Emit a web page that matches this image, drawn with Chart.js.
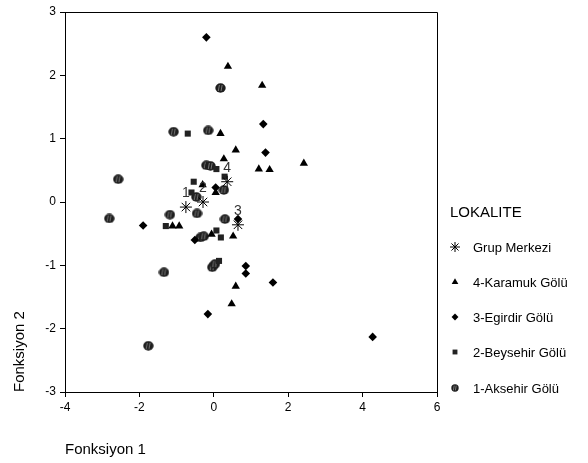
<!DOCTYPE html>
<html>
<head>
<meta charset="utf-8">
<script src="https://cdn.jsdelivr.net/npm/chart.js@4.4.0/dist/chart.umd.min.js"></script>
<style>
  html, body { margin: 0; padding: 0; background: #fff; }
  #wrap { width: 588px; height: 463px; }
</style>
</head>
<body>
<div id="wrap"><canvas id="chart" width="588" height="463"></canvas></div>
<script>
// Discriminant scores (Fonksiyon 1, Fonksiyon 2)
const aksehir = [
  [-2.57, 0.36], [-2.81, -0.26], [-1.08, 1.11], [-0.15, 1.13], [0.18, 1.80],
  [-0.20, 0.58], [-0.09, 0.57], [0.27, 0.19], [-0.47, 0.08], [-1.18, -0.20],
  [-0.45, -0.18], [0.30, -0.27], [-0.36, -0.56], [-0.27, -0.54], [-0.04, -1.03],
  [0.03, -0.98], [-1.34, -1.11], [-1.76, -2.27]
];
const beysehir = [
  [-0.70, 1.08], [0.07, 0.52], [0.29, 0.40], [-0.54, 0.32], [-0.60, 0.15],
  [-1.29, -0.38], [0.07, -0.45], [0.19, -0.56], [0.14, -0.93]
];
const egirdir = [
  [-0.20, 2.60], [1.33, 1.23], [1.39, 0.78], [0.05, 0.23], [0.65, -0.27],
  [-1.90, -0.37], [-0.51, -0.60], [0.86, -1.01], [0.86, -1.13], [1.59, -1.27],
  [-0.16, -1.77], [4.27, -2.13]
];
const karamuk = [
  [0.38, 2.14], [1.30, 1.84], [0.18, 1.08], [0.59, 0.82], [0.27, 0.68],
  [1.21, 0.52], [1.50, 0.51], [2.42, 0.61], [-0.30, 0.27], [0.05, 0.15],
  [-1.11, -0.38], [-0.93, -0.38], [-0.06, -0.51], [0.52, -0.54], [0.59, -1.33],
  [0.48, -1.61]
];
const centroids = [[-0.75, -0.08], [-0.29, 0.00], [0.65, -0.36], [0.36, 0.32]];
const centroidLabels = ["1", "2", "3", "4"];

const xTicks = [-4, -2, 0, 2, 4, 6];
const yTicks = [-3, -2, -1, 0, 1, 2, 3];

const legendTitle = "LOKALITE";

// hatched ball marker used for group 1
function makeBall(w, h) {
  const c = document.createElement("canvas");
  c.width = w;
  c.height = h;
  const g = c.getContext("2d");
  g.fillStyle = "#1e1e1e";
  g.beginPath();
  g.ellipse(w / 2, h / 2, w / 2 - 0.3, h / 2 - 0.3, 0, 0, Math.PI * 2);
  g.fill();
  g.strokeStyle = "#8c8c8c";
  g.lineWidth = 0.8;
  g.beginPath();
  g.moveTo(w * 0.4, h * 0.2); g.lineTo(w * 0.3, h * 0.8);
  g.moveTo(w * 0.65, h * 0.2); g.lineTo(w * 0.55, h * 0.8);
  g.stroke();
  return c;
}
const ball = makeBall(11, 10);
const smallBall = makeBall(8, 8);

const toPts = arr => arr.map(p => ({ x: p[0], y: p[1] }));

// dataset order = legend order
const datasets = [
  { label: "Grup Merkezi", data: toPts(centroids), pointStyle: "star", pointRadius: 6,
    borderColor: "#000", backgroundColor: "#000", pointBorderWidth: 1 },
  { label: "4-Karamuk Gölü", data: toPts(karamuk), pointStyle: "triangle", pointRadius: 4.8,
    borderColor: "#000", backgroundColor: "#000", pointBorderWidth: 0 },
  { label: "3-Egirdir Gölü", data: toPts(egirdir), pointStyle: "rectRot", pointRadius: 4.3,
    borderColor: "#000", backgroundColor: "#000", pointBorderWidth: 0 },
  { label: "2-Beysehir Gölü", data: toPts(beysehir), pointStyle: "rect", pointRadius: 4.3,
    borderColor: "#222", backgroundColor: "#222", pointBorderWidth: 0 },
  { label: "1-Aksehir Gölü", data: toPts(aksehir), pointStyle: ball, pointRadius: 5,
    borderColor: "#1e1e1e", backgroundColor: "#1e1e1e", pointBorderWidth: 0 }
];

// frame, centroid numbers and the legend block on the right
const extras = {
  id: "extras",
  beforeDatasetsDraw(chart) {
    const { ctx, chartArea: a } = chart;
    ctx.save();
    ctx.strokeStyle = "#000";
    ctx.lineWidth = 1;
    ctx.beginPath();
    ctx.moveTo(a.left, a.top + 0.5);
    ctx.lineTo(a.right + 0.5, a.top + 0.5);
    ctx.lineTo(a.right + 0.5, a.bottom);
    ctx.stroke();
    ctx.restore();
  },
  afterDraw(chart) {
    const { ctx } = chart;
    const xs = chart.scales.x, ys = chart.scales.y;
    ctx.save();
    ctx.fillStyle = "#333";
    ctx.font = "14px Arial, 'Liberation Sans', sans-serif";
    ctx.textAlign = "center";
    ctx.textBaseline = "middle";
    centroids.forEach((c, i) => {
      ctx.fillText(centroidLabels[i], xs.getPixelForValue(c[0]), ys.getPixelForValue(c[1]) - 14);
    });

    // legend
    ctx.fillStyle = "#000";
    ctx.textAlign = "left";
    ctx.font = "15px Arial, 'Liberation Sans', sans-serif";
    ctx.fillText(legendTitle, 450, 213);
    ctx.font = "13px Arial, 'Liberation Sans', sans-serif";
    const rowY = [247, 282, 317, 352, 388];
    chart.data.datasets.forEach((ds, i) => {
      ctx.fillStyle = ds.backgroundColor;
      ctx.strokeStyle = ds.borderColor;
      ctx.lineWidth = ds.pointBorderWidth || 1;
      Chart.helpers.drawPoint(ctx, {
        pointStyle: ds.pointStyle === ball ? smallBall : ds.pointStyle,
        radius: ds.pointStyle === "star" ? 5 : ds.pointRadius * 0.8,
        rotation: 0,
        borderWidth: ds.pointBorderWidth
      }, 455, rowY[i]);
      ctx.fillStyle = "#000";
      ctx.fillText(ds.label, 473, rowY[i] + 1);
    });
    ctx.restore();
  }
};

const zeroPad = s => { s.paddingTop = 0; s.paddingBottom = 0; s.paddingLeft = 0; s.paddingRight = 0; };

new Chart(document.getElementById("chart"), {
  type: "scatter",
  data: { datasets: datasets },
  options: {
    responsive: false,
    animation: false,
    events: [],
    layout: { padding: { top: 12, right: 151, bottom: 0, left: 0 } },
    plugins: {
      legend: { display: false },
      tooltip: { enabled: false }
    },
    scales: {
      x: {
        type: "linear",
        min: -4,
        max: 6,
        afterBuildTicks: s => { s.ticks = xTicks.map(v => ({ value: v })); },
        afterFit: s => { zeroPad(s); s.height = 71; },
        ticks: { color: "#000", padding: 3, font: { size: 12, family: "Arial, 'Liberation Sans', sans-serif" } },
        grid: { drawOnChartArea: false, tickLength: 5, color: "#000" },
        border: { color: "#000", width: 1 },
        title: {
          display: true, text: "Fonksiyon 1", align: "start", color: "#000",
          padding: { top: 0, bottom: 4 },
          font: { size: 15, family: "Arial, 'Liberation Sans', sans-serif" }
        }
      },
      y: {
        type: "linear",
        min: -3,
        max: 3,
        afterBuildTicks: s => { s.ticks = yTicks.map(v => ({ value: v })); },
        afterFit: s => { zeroPad(s); s.width = 65; },
        ticks: { color: "#000", padding: 4, font: { size: 12, family: "Arial, 'Liberation Sans', sans-serif" } },
        grid: { drawOnChartArea: false, tickLength: 5, color: "#000" },
        border: { color: "#000", width: 1 },
        title: {
          display: true, text: "Fonksiyon 2", align: "start", color: "#000",
          padding: { top: 11, bottom: 0 },
          font: { size: 15, family: "Arial, 'Liberation Sans', sans-serif" }
        }
      }
    }
  },
  plugins: [extras]
});
</script>
</body>
</html>
